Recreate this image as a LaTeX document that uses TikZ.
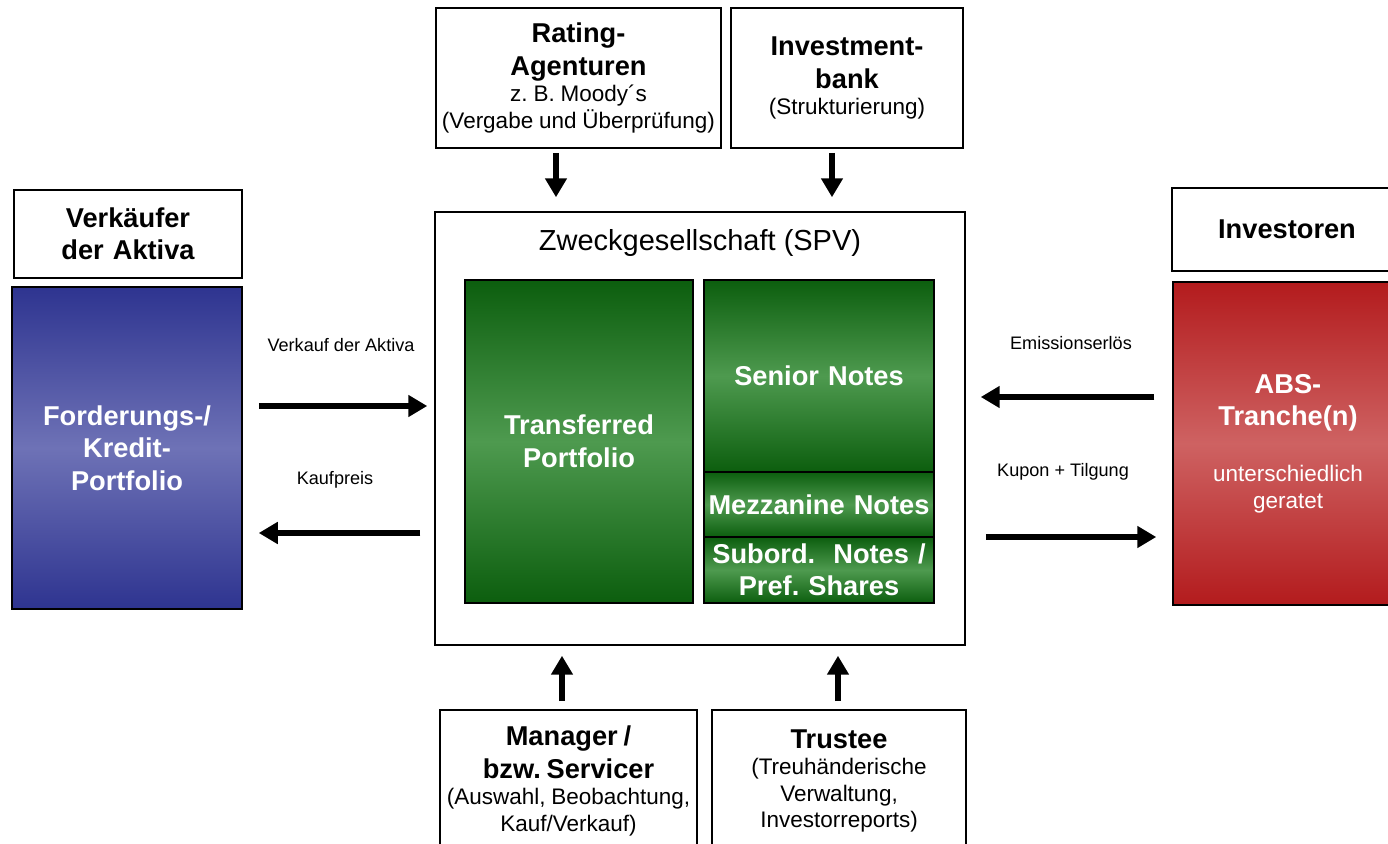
\documentclass[tikz,border=0pt]{standalone}
\usepackage{fontspec}
\setmainfont{Liberation Sans}
\usetikzlibrary{arrows.meta}
\frenchspacing

\definecolor{blueedge}{HTML}{2E3490}
\definecolor{bluemid}{HTML}{6E72B6}
\definecolor{greenedge}{HTML}{0C5E0E}
\definecolor{greenmid}{HTML}{4E9A4F}
\definecolor{rededge}{HTML}{B31B1D}
\definecolor{redmid}{HTML}{CE6262}

\newcommand{\hdfont}{\fontsize{15.5}{18.5}\selectfont\bfseries}
\newcommand{\txfont}{\normalfont\fontsize{12.8}{15}\selectfont}
\newcommand{\lbfont}{\fontsize{10.3}{12}\selectfont}

\begin{document}
\begin{tikzpicture}[x=0.02cm,y=-0.02cm]
\tikzset{wbox/.style = {draw=black, line width=0.9pt, fill=white, align=center, inner sep=0pt}}
\tikzset{shbox/.style = {draw=black, line width=0.9pt, align=center, inner sep=0pt, text=white, font=\hdfont}}
\tikzset{bluebox/.style = {shbox, top color=blueedge, bottom color=blueedge, middle color=bluemid}}
\tikzset{greenbox/.style = {shbox, top color=greenedge, bottom color=greenedge, middle color=greenmid}}
\tikzset{redbox/.style = {shbox, top color=rededge, bottom color=rededge, middle color=redmid}}
\tikzset{dims/.style 2 args = {minimum width=#1cm, text width=#1cm, minimum height=#2cm}}
\tikzset{fatarrow/.style = {line width=2.9pt, -{Triangle[length=0.38cm, width=0.42cm]}}}

\useasboundingbox (0,0) rectangle (1388,844);
\fill[white] (0,0) rectangle (1388,844);
\clip (0,0) rectangle (1388,844);

    \node[wbox, dims={4.56}{1.76}, font=\hdfont] (seller) at (128,234) {Verkäufer\\der Aktiva};
    \node[bluebox, dims={4.6}{6.44}] (portf) at (127,448) {Forderungs-/\\Kredit-\\Portfolio};

    \node[wbox, dims={10.6}{8.66}] (spv) at (700,428.5) {};
    \node[font=\fontsize{16.5}{19}\selectfont] (spvt) at (700,243) {Zweckgesellschaft (SPV)};
    \node[greenbox, dims={4.56}{6.46}] (transf) at (579,441.5) {Transferred\\Portfolio};
    \node[greenbox, dims={4.6}{3.84}] (senior) at (819,376) {Senior Notes};
    \node[greenbox, dims={4.6}{1.3}] (mezz) at (819,504.5) {Mezzanine Notes};
    \node[greenbox, dims={4.6}{1.32}] (subord) at (819,570) {Subord.\ \ Notes /\\Pref. Shares};

    \node[wbox, dims={5.7}{2.8}] (rating) at (578.5,78) {{\hdfont Rating-\\Agenturen\par}\txfont z. B. Moody´s\\(Vergabe und Überprüfung)\par};
    \node[wbox, dims={4.64}{2.8}] (ibank) at (847,78) {{\hdfont Investment-\\bank\par}\txfont (Strukturierung)\par};

    \node[wbox, dims={5.14}{2.84}] (manager) at (568.5,781) {{\hdfont Manager /\\bzw. Servicer\par}\txfont (Auswahl, Beobachtung,\\Kauf/Verkauf)\par};
    \node[wbox, dims={5.08}{2.84}] (trustee) at (839,781) {{\hdfont Trustee\par}\txfont (Treuhänderische\\Verwaltung,\\Investorreports)\par};

    \node[wbox, dims={4.6}{1.66}, font=\hdfont] (invest) at (1287,229.5) {Investoren};
    \node[redbox, dims={4.6}{6.46}] (abs) at (1288,443.5) {ABS-\\Tranche(n)\par\vspace{17pt}\txfont unterschiedlich\\geratet\par};

    \node[font=\lbfont] (lsale) at (341,345) {Verkauf der Aktiva};
    \node[font=\lbfont] (lprice) at (335,480) {Kaufpreis};
    \node[font=\lbfont] (lissue) at (1071,343) {Emissionserlös};
    \node[font=\lbfont] (lcoupon) at (1063,472) {Kupon + Tilgung};

\draw[fatarrow, shorten <=0.32cm, shorten >=0.14cm] (portf.east |- 0,406) -- (spv.west |- 0,406);
\draw[fatarrow, shorten <=0.28cm, shorten >=0.32cm] (spv.west |- 0,533) -- (portf.east |- 0,533);
\draw[fatarrow, shorten <=0.36cm, shorten >=0.3cm] (abs.west |- 0,397) -- (spv.east |- 0,397);
\draw[fatarrow, shorten <=0.4cm, shorten >=0.32cm] (spv.east |- 0,537) -- (abs.west |- 0,537);

\draw[fatarrow, shorten <=0.08cm, shorten >=0.28cm] (rating.south -| 556,0) -- (spv.north -| 556,0);
\draw[fatarrow, shorten <=0.08cm, shorten >=0.28cm] (ibank.south -| 832,0) -- (spv.north -| 832,0);
\draw[fatarrow, shorten <=0.16cm, shorten >=0.2cm] (manager.north -| 562,0) -- (spv.south -| 562,0);
\draw[fatarrow, shorten <=0.16cm, shorten >=0.2cm] (trustee.north -| 838,0) -- (spv.south -| 838,0);

\end{tikzpicture}
\end{document}
